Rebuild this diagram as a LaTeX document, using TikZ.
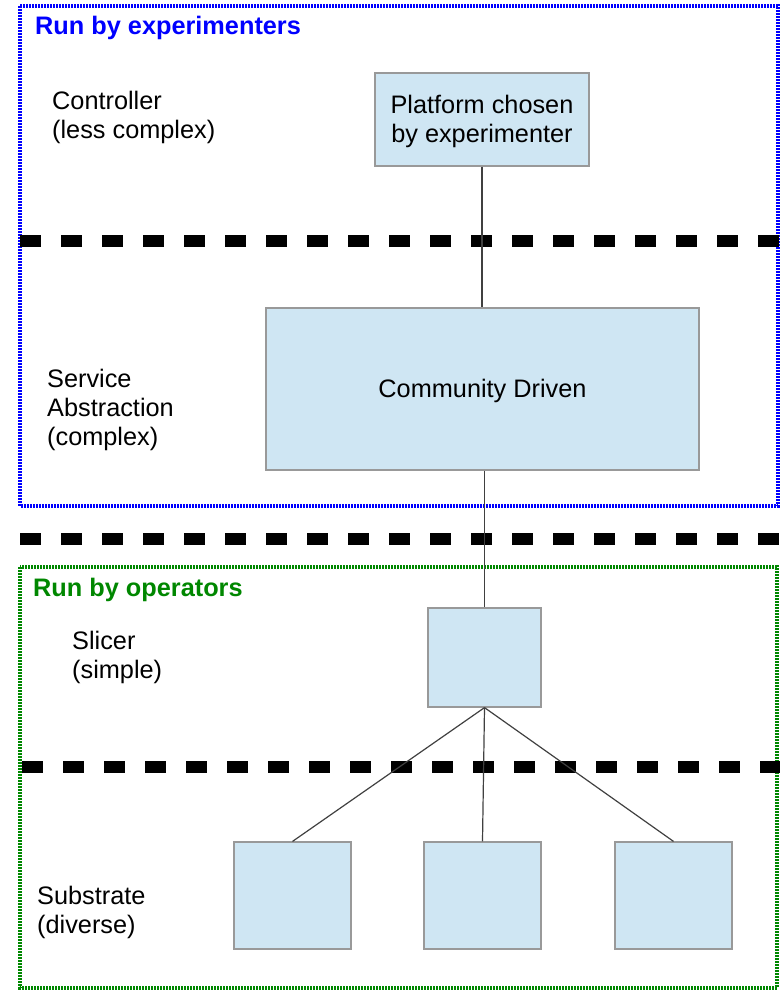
\documentclass[tikz,border=0pt]{standalone}
\usepackage{fontspec}
\setmainfont{Liberation Sans}
\begin{document}
\begin{tikzpicture}[x=1pt,y=-1pt,
  every node/.style={font=\fontsize{25.3}{29}\selectfont},
  box/.style={draw=black!40, line width=1.2pt, fill=boxblue, inner sep=0pt, align=center},
  label/.style={anchor=west, inner sep=0pt, align=left},
  title/.style={anchor=base west, inner sep=0pt, font=\fontsize{25.3}{29}\selectfont\bfseries},
  layer/.style={line width=12pt, dash pattern=on 21pt off 20pt},
  region/.style={line width=3.5pt, dash pattern=on 2pt off 1pt},
  link/.style={draw=black!75, line width=1.2pt}]
\definecolor{boxblue}{RGB}{207,230,243}
\definecolor{opgreen}{RGB}{0,135,0}
\useasboundingbox (0,0) rectangle (780,990);

% the two responsibility regions
\draw[region, draw=blue] (20,6) rectangle (778,506);
\draw[region, draw=opgreen] (20,567) rectangle (777,988);
\node[title, text=blue] (exp) at (35,35) {Run by experimenters};
\node[title, text=opgreen] (ops) at (33,596) {Run by operators};

% layer separators
\draw[layer] (20,241) -- (780,241);
\draw[layer] (20,539) -- (780,539);
\draw[layer] (22,767) -- (780,767);

% layer names
\node[label] (lctl) at (52,117) {Controller\\(less complex)};
\node[label] (lsrv) at (47,409.5) {Service\\Abstraction\\(complex)};
\node[label] (lslc) at (72,657) {Slicer\\(simple)};
\node[label] (lsub) at (37,912) {Substrate\\(diverse)};

% components
\node[box, minimum width=214pt, minimum height=93pt] (plat) at (482,119.5)
  {\raisebox{-2.5pt}[\height][\depth]{\begin{tabular}{@{}c@{}}Platform chosen\\by experimenter\end{tabular}}};
\node[box, minimum width=433pt, minimum height=162pt] (comm) at (482.5,389)
  {\raisebox{-2pt}[\height][\depth]{Community Driven}};
\node[box, minimum width=113pt, minimum height=99pt] (slic) at (484.5,657.5) {};
\node[box, minimum width=117pt, minimum height=107pt] (sub1) at (292.5,895.5) {};
\node[box, minimum width=117pt, minimum height=107pt] (sub2) at (482.5,895.5) {};
\node[box, minimum width=117pt, minimum height=107pt] (sub3) at (673.5,895.5) {};

% connections
\draw[link] (plat.south) -- (plat.south |- comm.north);
\draw[link] (comm.south -| slic.north) -- (slic.north);
\draw[link] (slic.south) -- (sub1.north);
\draw[link] (slic.south) -- (sub2.north);
\draw[link] (slic.south) -- (sub3.north);
\end{tikzpicture}
\end{document}
